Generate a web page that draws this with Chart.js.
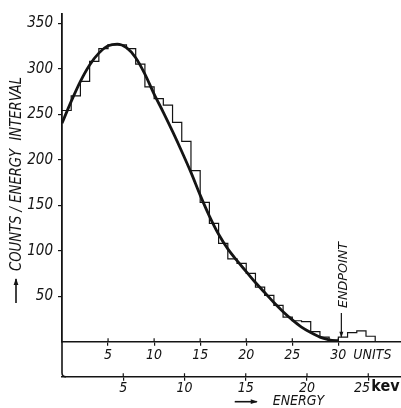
<!DOCTYPE html>
<html><head><meta charset="utf-8">
<script src="https://cdn.jsdelivr.net/npm/chart.js@4/dist/chart.umd.min.js"></script>
<style>html,body{margin:0;padding:0;background:#fff}</style>
</head><body>
<canvas id="c" width="401" height="408" style="width:401px;height:408px;display:block"></canvas>
<script>
// ---- data ----
const histCounts = [254,270,286,308,322,326,326,322,305,280,267,260,241,220,188,153,130,108,91,86,75,60,51,40,27,23,22,11,5,2,5,10,12,6];
const curveUnits = [0,1,2,3,4,5,6,7,8,9,10,11,12,13,14,15,16,17,18,19,20,21,22,23,24,25,26,27,28,29,30];
const curveCounts = [240,264,286,304,317,325,327,323,312,294,272,252,231,209,186,161,138,118,102,89,77,65,54,43,33,24,16,10,5,2,0];
const unitTicks = [5,10,15,20,25,30];
const kevTicks = [5,10,15,20,25];
const countTicks = [50,100,150,200,250,300,350];
const UNIT_MAX = 36.8, COUNT_MAX = 360, KEV_PER_UNIT = 0.752, ENDPOINT_UNIT = 30;

const INK = '#141414';
const FONT = "'Liberation Sans Narrow','DejaVu Sans Condensed','Liberation Sans',sans-serif";

const histPoints = histCounts.map((v,i)=>({x:i,y:v}));
histPoints.push({x:histCounts.length,y:0});
const curvePoints = curveUnits.map((u,i)=>({x:u,y:curveCounts[i]}));

function arrow(ctx,x1,y1,x2,y2,head){
  ctx.beginPath();ctx.moveTo(x1,y1);ctx.lineTo(x2,y2);ctx.stroke();
  const ang=Math.atan2(y2-y1,x2-x1);
  ctx.beginPath();
  ctx.moveTo(x2+Math.cos(ang)*1,y2+Math.sin(ang)*1);
  ctx.lineTo(x2-Math.cos(ang)*head+Math.sin(ang)*head*0.4,y2-Math.sin(ang)*head-Math.cos(ang)*head*0.4);
  ctx.lineTo(x2-Math.cos(ang)*head-Math.sin(ang)*head*0.4,y2-Math.sin(ang)*head+Math.cos(ang)*head*0.4);
  ctx.closePath();ctx.fill();
}

const decor = {
  id:'decor',
  afterDraw(chart){
    const {ctx, chartArea:a, scales} = chart;
    const x=scales.x, x2=scales.x2;
    ctx.save();
    ctx.strokeStyle=INK; ctx.fillStyle=INK;
    ctx.lineWidth=1.2;
    ctx.beginPath();
    unitTicks.forEach(v=>{const p=x.getPixelForValue(v);ctx.moveTo(p,a.bottom);ctx.lineTo(p,a.bottom-3.5);});
    kevTicks.forEach(v=>{const p=x2.getPixelForValue(v);ctx.moveTo(p,x2.top);ctx.lineTo(p,x2.top-3.5);});
    ctx.stroke();
    ctx.lineWidth=1.6;
    ctx.beginPath();
    ctx.moveTo(a.left,a.bottom);ctx.lineTo(a.left,x2.top-4);
    ctx.quadraticCurveTo(a.left,x2.top,a.left+4,x2.top);
    ctx.stroke();
    ctx.font='italic 14px '+FONT; ctx.textBaseline='middle'; ctx.textAlign='left';
    ctx.fillText('UNITS', x.getPixelForValue(30)+15, a.bottom+14);
    ctx.font='bold 16px '+FONT;
    ctx.fillText('kev', x2.getPixelForValue(25)+3, x2.top+10);
    ctx.lineWidth=1.6;
    const ay = x2.top+25;
    arrow(ctx, x2.getPixelForValue(14.1), ay, x2.getPixelForValue(15.9), ay, 6);
    ctx.font='italic 14px '+FONT;
    ctx.fillText('ENERGY', x2.getPixelForValue(17.2), ay);
    ctx.save();
    ctx.translate(17, 271);
    ctx.rotate(-Math.PI/2);
    ctx.font='italic 15px '+FONT; ctx.textAlign='left'; ctx.textBaseline='middle';
    const t='COUNTS / ENERGY  INTERVAL';
    const w=ctx.measureText(t).width;
    ctx.scale(194/w,1);
    ctx.fillText(t,0,0);
    ctx.restore();
    arrow(ctx, 16, 303, 16, 279, 6);
    const ex = x.getPixelForValue(ENDPOINT_UNIT)+3;
    ctx.save();
    ctx.translate(ex+2, 308);
    ctx.rotate(-Math.PI/2);
    ctx.font='italic 13px '+FONT; ctx.textAlign='left'; ctx.textBaseline='middle';
    const t2='ENDPOINT';
    const w2=ctx.measureText(t2).width;
    ctx.scale(66/w2,1);
    ctx.fillText(t2,0,0);
    ctx.restore();
    ctx.lineWidth=1.2;
    arrow(ctx, ex, 313, ex, a.bottom-5, 5);
    ctx.restore();
  }
};

new Chart(document.getElementById('c'),{
  data:{datasets:[
    {type:'line',data:histPoints,stepped:'before',borderColor:INK,borderWidth:1.2,pointRadius:0,fill:false,order:2},
    {type:'line',data:curvePoints,cubicInterpolationMode:'monotone',borderColor:INK,borderWidth:2.8,pointRadius:0,fill:false,order:1}
  ]},
  options:{
    responsive:false,animation:false,devicePixelRatio:1,
    layout:{padding:{top:13,right:0,bottom:0,left:0}},
    plugins:{legend:{display:false},tooltip:{enabled:false}},
    scales:{
      x:{type:'linear',position:'bottom',min:0,max:UNIT_MAX,
        afterBuildTicks:s=>{s.ticks=unitTicks.map(v=>({value:v}));},
        afterFit:s=>{s.height=35;},
        grid:{drawOnChartArea:false,tickLength:4,color:INK,lineWidth:1.2},
        border:{color:INK,width:1.5},
        ticks:{autoSkip:false,maxRotation:0,padding:1,color:INK,font:{family:FONT,size:14,style:'italic'}}
      },
      x2:{type:'linear',position:'bottom',min:0,max:UNIT_MAX*KEV_PER_UNIT,
        afterBuildTicks:s=>{s.ticks=kevTicks.map(v=>({value:v}));},
        afterFit:s=>{s.height=31.3;},
        grid:{drawOnChartArea:false,tickLength:4,color:INK,lineWidth:1.2},
        border:{color:INK,width:1.5},
        ticks:{autoSkip:false,maxRotation:0,padding:-1,color:INK,font:{family:FONT,size:14,style:'italic'},
          callback:(v)=> v===kevTicks[kevTicks.length-1] ? v+'\u2002\u2002' : String(v)}
      },
      y:{type:'linear',position:'left',min:0,max:COUNT_MAX,
        afterBuildTicks:s=>{s.ticks=countTicks.map(v=>({value:v}));},
        afterFit:s=>{s.width=62;},
        grid:{drawOnChartArea:false,tickLength:4,color:INK,lineWidth:1.2},
        border:{color:INK,width:1.8},
        ticks:{padding:5,color:INK,font:{family:FONT,size:15,style:'italic'}}
      }
    }
  },
  plugins:[decor]
});
</script>
</body></html>
